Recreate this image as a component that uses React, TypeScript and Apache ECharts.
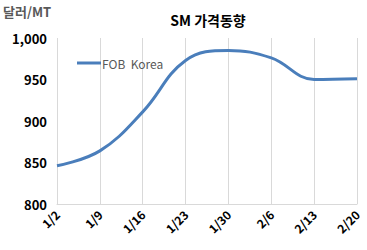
import React, { useEffect, useRef } from "react";
import * as echarts from "echarts";

const categories = ["1/2", "1/9", "1/16", "1/23", "1/30", "2/6", "2/13", "2/20"];
const fobKorea = [846, 864, 911, 973, 985, 976, 950, 951];
const seriesName = "FOB  Korea";
const titleText = "SM 가격동향";
const unitText = "달러/MT";

const FONT = "'Noto Sans CJK KR', 'Noto Sans', sans-serif";

export default function App() {
  const ref = useRef<HTMLDivElement>(null);
  useEffect(() => {
    if (!ref.current) return;
    const chart = echarts.init(ref.current, null, { renderer: "svg" });
    chart.setOption({
      animation: false,
      backgroundColor: "#ffffff",
      title: {
        text: titleText,
        left: 203,
        top: 8,
        textAlign: "center",
        textStyle: { fontFamily: FONT, fontSize: 14, fontWeight: "bold", color: "#000" },
      },
      graphic: [
        {
          type: "text",
          left: 3,
          top: 5,
          style: { text: unitText, fontFamily: FONT, fontSize: 13, fontWeight: "bold", fill: "#595959" },
        },
      ],
      legend: {
        left: 72,
        top: 52,
        itemWidth: 24,
        itemHeight: 3,
        itemGap: 0,
        icon: "rect",
        textStyle: { fontFamily: FONT, fontSize: 12, color: "#595959", padding: [0, 0, 0, -4] },
        data: [{ name: seriesName, icon: "rect" }],
      },
      grid: { left: 57, right: 10, top: 38, bottom: 46 },
      xAxis: {
        type: "category",
        data: categories,
        boundaryGap: false,
        axisLine: { lineStyle: { color: "#d9d9d9", width: 1 } },
        axisTick: { show: false },
        splitLine: { show: true, lineStyle: { color: "#d9d9d9", width: 1 } },
        axisLabel: {
          rotate: 45,
          fontFamily: FONT,
          fontSize: 12,
          fontWeight: "bold",
          color: "#000",
          margin: 8,
        },
      },
      yAxis: {
        type: "value",
        min: 800,
        max: 1000,
        interval: 50,
        axisLine: { show: false },
        axisTick: { show: false },
        splitLine: { show: false },
        axisLabel: {
          fontFamily: FONT,
          fontSize: 13,
          fontWeight: "bold",
          color: "#000",
          margin: 10,
          formatter: (v: number) => v.toLocaleString("en-US"),
        },
      },
      series: [
        {
          name: seriesName,
          type: "line",
          data: fobKorea,
          smooth: 0.4,
          symbol: "none",
          lineStyle: { color: "#4a7ebb", width: 3 },
          itemStyle: { color: "#4a7ebb" },
        },
      ],
    });
    return () => chart.dispose();
  }, []);
  return <div ref={ref} style={{ width: 367, height: 250, position: "absolute", left: 0, top: 0 }} />;
}
